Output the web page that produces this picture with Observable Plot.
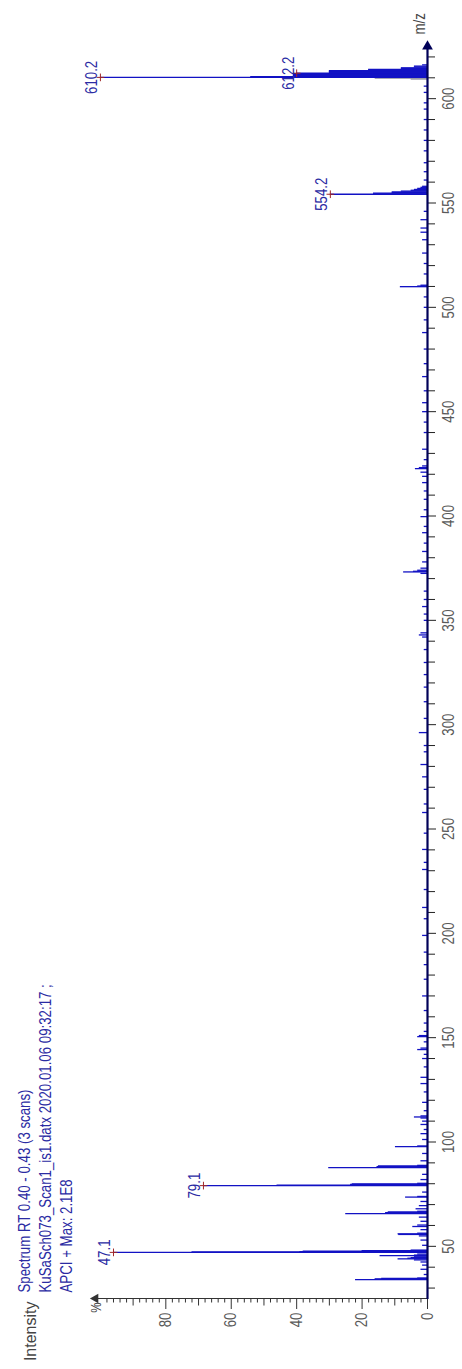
<!DOCTYPE html>
<html>
<head>
<meta charset="utf-8">
<script src="https://cdn.jsdelivr.net/npm/d3@7"></script>
<script src="https://cdn.jsdelivr.net/npm/@observablehq/plot@0.6"></script>
<style>
  html, body { margin: 0; padding: 0; background: #ffffff; }
  #page { position: relative; width: 462px; height: 1369px; overflow: hidden; background: #ffffff; }
  #chart { position: absolute; left: 0; top: 0; width: 1369px; height: 462px;
           transform-origin: 0 0; transform: translate(0px, 1369px) rotate(-90deg); }
</style>
</head>
<body>
<div id="page"><div id="chart"></div></div>
<script>
// ---- Data ----
const mzValues = [
  34.0, 34.2, 34.4, 34.6, 34.8, 36.5, 39.0, 41.0, 42.5, 43.5, 44.0, 44.3, 44.6, 45.0, 45.5, 45.8, 46.3,
  47.1, 47.3, 47.5, 47.7, 47.9, 48.2, 50.5, 53.0, 55.0, 55.7, 56.0, 56.3, 58.0, 59.5, 60.2, 62.0, 64.0,
  65.7, 65.9, 66.2, 66.5, 66.8, 68.0, 69.5, 71.5, 73.6, 73.9, 76.0,
  79.1, 79.3, 79.5, 79.7, 79.9, 80.2, 82.0, 84.5, 87.7, 87.9, 88.2, 88.5, 88.8, 91.0, 94.5, 97.8, 98.1,
  101.2, 104.0, 106.0, 108.4, 110.0, 111.5, 112.0, 112.5, 115.0, 119.0, 124.0, 128.0, 131.0, 136.0,
  140.0, 142.0, 144.3, 145.0, 148.0, 150.5, 151.0, 153.0, 157.0, 163.0, 170.0, 178.0, 185.0, 191.0,
  199.0, 207.0, 212.4, 221.0, 230.6, 234.0, 240.2, 248.0, 257.9, 262.0, 269.0, 275.0, 280.9, 287.0,
  290.0, 296.2, 303.0, 311.0, 318.0, 324.0, 329.8, 336.0, 342.0, 343.0, 344.0, 350.0, 353.0, 356.6,
  360.0, 364.0, 372.5, 373.2, 373.5, 374.0, 375.0, 378.0, 383.0, 387.0, 392.0, 395.0, 399.7, 403.0,
  408.0, 412.0, 416.0, 419.0, 421.0, 422.7, 423.2, 424.0, 427.0, 432.0, 440.0, 445.0, 450.0, 454.3,
  460.0, 466.8, 473.0, 480.0, 487.9, 494.0, 500.0, 505.0, 509.9, 510.2, 510.6, 516.0, 521.0, 526.0,
  532.4, 536.0, 538.0, 542.0, 546.0,
  554.2, 554.4, 554.7, 555.0, 555.3, 555.7, 556.1, 556.5, 557.0, 557.5, 558.0,
  561.0, 565.0, 569.3, 575.0, 580.0, 585.0, 590.0, 595.0, 598.0, 603.0, 606.0,
  610.2, 610.4, 610.6, 610.8, 611.1, 611.4, 611.7, 612.0, 612.2, 612.5, 612.8, 613.1, 613.4,
  613.7, 614.0, 614.4, 614.8, 615.2, 615.6, 616.2
];
const intensityValues = [
  22, 16, 16, 14, 3, 1, 2, 1.5, 2, 4, 9, 6, 5, 4, 14.5, 4, 3,
  96, 72, 39, 38, 20, 5, 1.5, 2, 2.5, 8.8, 9, 3, 2, 4.5, 3, 2, 2.5,
  25, 12.8, 12.8, 12, 3, 3.5, 2.5, 2, 6.7, 3, 1.5,
  68.5, 46, 23.5, 23.5, 23, 3, 2, 1.5, 30.2, 15.4, 15.4, 15, 3, 2, 1.5, 9.8, 3,
  1.5, 2, 1, 2, 1.5, 2, 4, 2, 1, 1.5, 1, 2, 2, 1,
  1.5, 1, 3, 2, 1, 3, 2.5, 1, 1, 1, 1.5, 1, 1, 1,
  1.5, 1, 1.5, 1, 1.5, 1, 1.5, 1, 1.5, 1, 1, 1.5, 2, 1,
  1, 2.5, 1, 1, 1, 1, 1, 1, 1.5, 2.5, 2, 1, 1, 1.5,
  1, 1, 2, 7.3, 4.3, 3, 2, 1.5, 1.5, 1, 1.5, 1, 2, 1,
  1, 1, 1.5, 1.5, 2, 3.7, 2.5, 1.5, 1, 1.5, 1, 1, 1.5, 1.5,
  1, 1.5, 1, 1, 1.5, 1, 1, 1, 8.3, 3, 2, 1, 1, 1.5,
  1.5, 2, 2, 2, 1,
  29.7, 16.5, 16.5, 10.8, 10.8, 8, 5, 4, 3, 2, 1.5,
  1, 1, 1, 1, 1, 1, 1, 1, 1, 1, 1,
  100, 54, 54, 41, 41, 41, 41, 41, 40, 30, 30, 30, 30,
  18, 18, 8, 8, 4, 4, 1.5
];
// faint grey second trace
const greyMz = [609.4, 609.8];
const greyIntensity = [5, 16];

const peakLabelMz = [47.1, 79.1, 554.2, 610.2, 612.2];
const peakLabelIntensity = [96, 68.5, 29.7, 100, 40];
const peakLabelText = ["47.1", "79.1", "554.2", "610.2", "612.2"];

const mzTickLabels = [50, 100, 150, 200, 250, 300, 350, 400, 450, 500, 550, 600];
const intensityTickLabels = [0, 20, 40, 60, 80];
const intensityMidTicks = [10, 30, 50, 70, 90];

const titleLines = [
  "Spectrum RT 0.40 - 0.43 (3 scans)",
  "KuSaSch073_Scan1_is1.datx 2020.01.06 09:32:17 ;",
  "APCI + Max: 2.1E8"
];
const yAxisTitle = "Intensity";
const yUnit = "%";
const xAxisTitle = "m/z";

// ---- Build ----
const spectrum = mzValues.map((m, i) => ({mz: m, intensity: intensityValues[i]}));
const greyTrace = greyMz.map((m, i) => ({mz: m, intensity: greyIntensity[i]}));
const peakLabels = peakLabelMz.map((m, i) => ({mz: m, intensity: peakLabelIntensity[i], label: peakLabelText[i]}));
const mzMinor = d3.range(30, 621, 10).filter(v => v % 50 !== 0);
const intMinor = d3.range(2, 101, 2).filter(v => v % 10 !== 0);

const FONT = "'Liberation Sans', Arial, sans-serif";
const BLUE = "#1212c4";
const TEXTBLUE = "#2b2ba3";
const NAVY = "#000058";
const GREYTXT = "#5a5a5a";

const chart = Plot.plot({
  width: 1369,
  height: 462,
  marginLeft: 70,
  marginRight: 47,
  marginTop: 95,
  marginBottom: 35,
  x: {domain: [25, 625], axis: null},
  y: {domain: [0, 101.5], axis: null},
  style: {background: "#ffffff", fontFamily: FONT, fontSize: "16px", overflow: "visible"},
  marks: [
    // m/z axis ticks and labels
    Plot.axisX({ticks: mzMinor, tickSize: 8, fill: "none", stroke: "#222", label: null}),
    Plot.axisX({ticks: mzTickLabels, tickSize: 9, tickPadding: 6, tickFormat: d => String(d),
                fill: GREYTXT, stroke: "#222", fontSize: 16, fontFamily: FONT, label: null}),
    // intensity axis ticks and labels
    Plot.axisY({ticks: intMinor, tickSize: 3.5, fill: "none", stroke: "#333", label: null}),
    Plot.axisY({ticks: intensityMidTicks, tickSize: 6.5, fill: "none", stroke: "#333", label: null}),
    Plot.axisY({ticks: intensityTickLabels, tickSize: 10, tickPadding: 4, tickFormat: d => String(d),
                fill: GREYTXT, stroke: "#333", fontSize: 16, fontFamily: FONT, label: null}),
    // intensity axis line + arrow
    Plot.ruleX([25], {stroke: "#333", strokeWidth: 1}),
    Plot.dot([101.5], {x: () => 25, y: d => d, symbol: "triangle", r: 3.6, fill: "#333", stroke: "none"}),
    // spectrum
    Plot.ruleX(greyTrace, {x: "mz", y1: 0, y2: "intensity", stroke: "#8a8a9a", strokeWidth: 1.2}),
    Plot.ruleX(spectrum, {x: "mz", y1: 0, y2: "intensity", stroke: BLUE, strokeWidth: 1.3}),
    // m/z axis line + arrow
    Plot.ruleY([0], {stroke: NAVY, strokeWidth: 2.2}),
    Plot.dot([625], {x: d => d, y: () => 0, symbol: "triangle", rotate: 90, r: 4, fill: NAVY, stroke: "none"}),
    // peak markers and labels
    Plot.dot(peakLabels, {x: "mz", y: "intensity", symbol: "plus", r: 2.6, stroke: "#a02828", strokeWidth: 1}),
    Plot.text(peakLabels, {x: "mz", y: "intensity", text: "label", dy: -3, lineAnchor: "bottom",
                           fill: TEXTBLUE, fontSize: 16, fontFamily: FONT}),
    // titles
    Plot.text([titleLines[0]], {frameAnchor: "top-left", dx: 6, dy: -71, textAnchor: "start", lineAnchor: "middle",
                                fill: TEXTBLUE, fontSize: 16, fontFamily: FONT}),
    Plot.text([titleLines[1]], {frameAnchor: "top-left", dx: 6, dy: -50, textAnchor: "start", lineAnchor: "middle",
                                fill: TEXTBLUE, fontSize: 16, fontFamily: FONT}),
    Plot.text([titleLines[2]], {frameAnchor: "top-left", dx: 6, dy: -29, textAnchor: "start", lineAnchor: "middle",
                                fill: TEXTBLUE, fontSize: 16, fontFamily: FONT}),
    Plot.text([yAxisTitle], {frameAnchor: "top-left", dx: -3, dy: -65, textAnchor: "end", lineAnchor: "middle",
                             fill: "#444", fontSize: 16, fontFamily: FONT, className: "keepwide"}),
    Plot.text([yUnit], {frameAnchor: "top-left", dx: -4, dy: 1, textAnchor: "end", lineAnchor: "middle",
                        fill: "#444", fontSize: 14, fontFamily: FONT}),
    Plot.text([xAxisTitle], {frameAnchor: "bottom-right", dx: 12, dy: -3, textAnchor: "start", lineAnchor: "bottom",
                             fill: "#444", fontSize: 16, fontFamily: FONT})
  ]
});

// Condense the lettering horizontally (the original uses a narrow typeface)
const SX = 0.83;
const isNum = v => v != null && v.trim() !== "" && isFinite(+v);
chart.querySelectorAll("text").forEach(el => {
  if (el.closest(".keepwide")) return;
  const xa = el.getAttribute("x");
  const ya = el.getAttribute("y");
  let tx = 0, ty = 0;
  if (isNum(xa)) { tx = +xa; el.removeAttribute("x"); }
  if (isNum(ya)) { ty = +ya; el.removeAttribute("y"); }
  const old = el.getAttribute("transform") || "";
  el.setAttribute("transform", `${old} translate(${tx},${ty}) scale(${SX},1)`.trim());
});

document.getElementById("chart").appendChild(chart);
</script>
</body>
</html>
